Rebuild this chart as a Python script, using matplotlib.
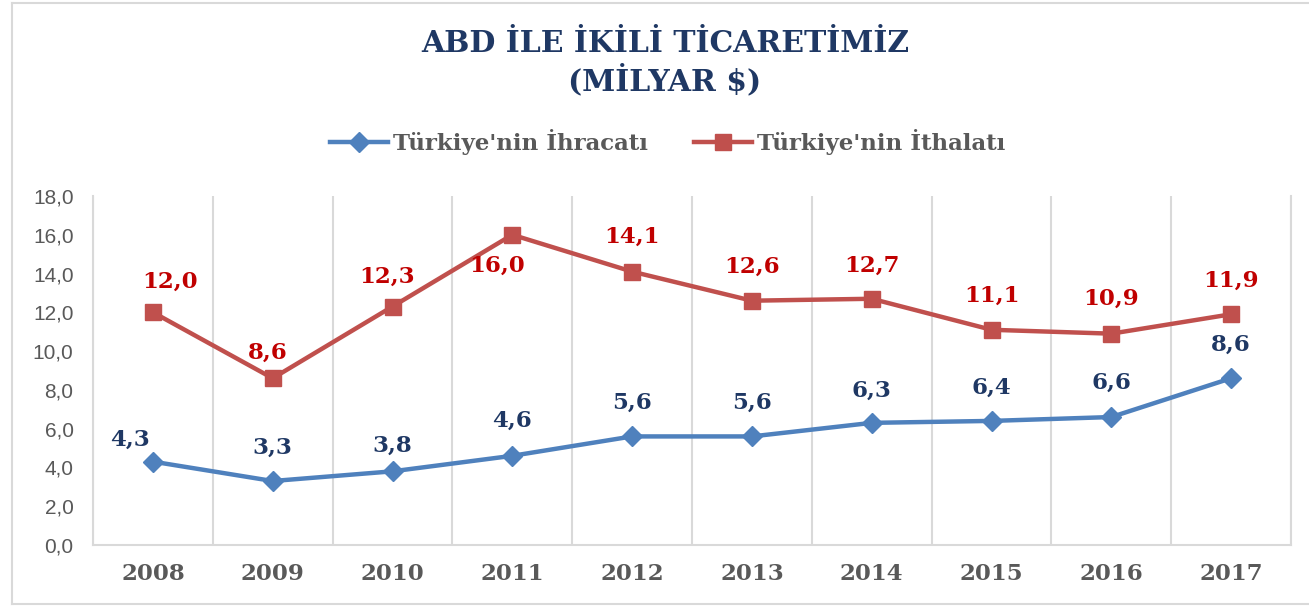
import matplotlib
matplotlib.use("Agg")
import matplotlib.pyplot as plt
from matplotlib.lines import Line2D

# %% Data
years = ["2008", "2009", "2010", "2011", "2012", "2013", "2014", "2015", "2016", "2017"]
ihracat = [4.3, 3.3, 3.8, 4.6, 5.6, 5.6, 6.3, 6.4, 6.6, 8.6]
ithalat = [12.0, 8.6, 12.3, 16.0, 14.1, 12.6, 12.7, 11.1, 10.9, 11.9]
y_ticks = [0, 2, 4, 6, 8, 10, 12, 14, 16, 18]

title = "ABD İLE İKİLİ TİCARETİMİZ\n(MİLYAR $)"
label_exp = "Türkiye'nin İhracatı"
label_imp = "Türkiye'nin İthalatı"

# label offsets (pixels, dx, dy) as placed in the original
off_exp = [(-23, 22), (0, 33), (0, 26), (0, 35), (0, 34), (0, 34), (0, 32), (0, 33), (0, 34), (0, 33)]
off_imp = [(17, 31), (-5, 25), (-5, 30), (-15, -31), (0, 35), (0, 34), (0, 33), (0, 34), (0, 35), (0, 33)]

# %% Style
W, H, DPI = 1309, 606, 100
BLUE = "#4F81BD"
RED = "#C0504D"
NAVY = "#1F3864"
DARKRED = "#C00000"
GRAY = "#595959"
GRID = "#D9D9D9"
SERIF = ["DejaVu Serif", "Liberation Serif"]
PX = 72 / DPI

fig = plt.figure(figsize=(W / DPI, H / DPI), dpi=DPI)
ax = fig.add_axes([93 / W, 1 - 545 / H, (1291 - 93) / W, (545 - 196) / H])

x = list(range(len(years)))
ax.plot(x, ihracat, color=BLUE, lw=3.2, marker="D", ms=10.5, mfc=BLUE, mec=BLUE,
        solid_capstyle="round", zorder=3)
ax.plot(x, ithalat, color=RED, lw=3.2, marker="s", ms=12, mfc=RED, mec=RED,
        solid_capstyle="round", zorder=3)

for xi, v, (dx, dy) in zip(x, ihracat, off_exp):
    ax.annotate(f"{v:.1f}".replace(".", ","), (xi, v), xytext=(dx * PX, dy * PX),
                textcoords="offset points", ha="center", va="center",
                fontsize=16.5, fontweight="bold", family=SERIF, color=NAVY, zorder=4)
for xi, v, (dx, dy) in zip(x, ithalat, off_imp):
    ax.annotate(f"{v:.1f}".replace(".", ","), (xi, v), xytext=(dx * PX, dy * PX),
                textcoords="offset points", ha="center", va="center",
                fontsize=16.5, fontweight="bold", family=SERIF, color=DARKRED, zorder=4)

ax.set_xlim(-0.5, len(years) - 0.5)
ax.set_ylim(0, 18)
ax.set_yticks(y_ticks)
ax.set_yticklabels([f"{t:.1f}".replace(".", ",") for t in y_ticks],
                   fontsize=15, color=GRAY, family="Liberation Sans")
ax.set_xticks(x)
ax.set_xticklabels(years, fontsize=16.5, fontweight="bold", family=SERIF, color=GRAY)
ax.tick_params(axis="y", length=0, pad=14)
ax.tick_params(axis="x", length=0, pad=13)

# vertical separators at category boundaries
ax.set_xticks([i - 0.5 for i in range(len(years) + 1)], minor=True)
ax.tick_params(axis="x", which="minor", length=0)
ax.grid(axis="x", which="minor", color=GRID, lw=1.5)
ax.grid(axis="x", which="major", visible=False)
ax.spines["top"].set_visible(False)
for side in ["left", "right", "bottom"]:
    ax.spines[side].set_color(GRID)
    ax.spines[side].set_linewidth(1.5)

# title
fig.text(665 / W, 1 - 63 / H, title, ha="center", va="center", fontsize=21.5,
         fontweight="bold", family=SERIF, color=NAVY, linespacing=1.2)

# legend
handles = [
    Line2D([], [], color=BLUE, lw=3.2, marker="D", ms=10.5, mfc=BLUE, mec=BLUE),
    Line2D([], [], color=RED, lw=3.2, marker="s", ms=12, mfc=RED, mec=RED),
]
leg = fig.legend(handles, [label_exp, label_imp], loc="center",
                 bbox_to_anchor=(668 / W, 1 - 142 / H), ncol=2, frameon=False,
                 handlelength=2.5, handletextpad=0.25, columnspacing=2.0,
                 prop={"family": SERIF, "size": 16.5, "weight": "bold"})
for t in leg.get_texts():
    t.set_color(GRAY)

# outer frame
frame_kw = dict(color=GRID, lw=1.5, transform=fig.transFigure)
fig.add_artist(Line2D([12 / W, 12 / W], [1 - 3 / H, 1 - 604 / H], **frame_kw))
fig.add_artist(Line2D([12 / W, 1], [1 - 3 / H, 1 - 3 / H], **frame_kw))
fig.add_artist(Line2D([12 / W, 1], [1 - 604 / H, 1 - 604 / H], **frame_kw))

fig.savefig("out.png", dpi=DPI)
